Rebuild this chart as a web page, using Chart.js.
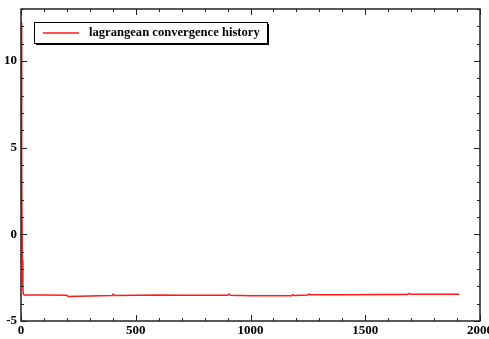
<!DOCTYPE html>
<html>
<head>
<meta charset="utf-8">
<script src="https://cdn.jsdelivr.net/npm/chart.js@4/dist/chart.umd.min.js"></script>
<style>
  html, body { margin: 0; padding: 0; background: #fff; }
  #wrap { width: 489px; height: 339px; }
</style>
</head>
<body>
<div id="wrap"><canvas id="chart"></canvas></div>
<script>
// iteration / lagrangean value pairs
const iterations = [0, 2, 4, 6, 8, 10, 14, 20, 100, 199, 205, 300, 398, 402, 408, 500, 600, 700, 800, 900, 906, 912, 1000, 1100, 1180, 1184, 1190, 1250, 1254, 1260, 1400, 1600, 1685, 1688, 1700, 1910];
const lagrangean = [12.2, 8.5, 3.0, -1.5, -3.0, -3.45, -3.5, -3.5, -3.5, -3.52, -3.58, -3.56, -3.53, -3.45, -3.53, -3.52, -3.5, -3.52, -3.52, -3.52, -3.44, -3.52, -3.55, -3.54, -3.55, -3.47, -3.53, -3.5, -3.44, -3.49, -3.48, -3.47, -3.47, -3.42, -3.46, -3.46];
const xTicks = [0, 500, 1000, 1500, 2000];
const yTicks = [-5, 0, 5, 10];
const seriesLabel = 'lagrangean convergence history';

const serif = '"Liberation Serif", "DejaVu Serif", serif';

// frame + inside tick marks on all four sides
const framePlugin = {
  id: 'frame',
  afterDraw(chart) {
    const { ctx, chartArea: a, scales: { x, y } } = chart;
    ctx.save();
    ctx.strokeStyle = '#222';
    ctx.lineWidth = 1.5;
    ctx.strokeRect(a.left, a.top, a.right - a.left, a.bottom - a.top);
    ctx.lineWidth = 1;
    ctx.beginPath();
    for (let v = 0; v <= 2000; v += 100) {
      const px = Math.round(x.getPixelForValue(v)) + 0.5;
      const len = v % 500 === 0 ? 6 : 3;
      ctx.moveTo(px, a.bottom); ctx.lineTo(px, a.bottom - len);
      ctx.moveTo(px, a.top); ctx.lineTo(px, a.top + len);
    }
    for (let v = -5; v <= 13; v += 1) {
      const py = Math.round(y.getPixelForValue(v)) + 0.5;
      const len = v % 5 === 0 ? 6 : 3;
      ctx.moveTo(a.left, py); ctx.lineTo(a.left + len, py);
      ctx.moveTo(a.right, py); ctx.lineTo(a.right - len, py);
    }
    ctx.stroke();

    // legend box with drop shadow
    const bx = 34, by = 22, bw = 233, bh = 21;
    ctx.fillStyle = '#000';
    ctx.fillRect(bx + 2, by + 2, bw, bh);
    ctx.fillStyle = '#fff';
    ctx.fillRect(bx, by, bw, bh);
    ctx.strokeStyle = '#000';
    ctx.lineWidth = 1;
    ctx.strokeRect(bx + 0.5, by + 0.5, bw, bh);
    const ds = chart.data.datasets[0];
    ctx.strokeStyle = ds.borderColor;
    ctx.lineWidth = 1.5;
    ctx.beginPath();
    ctx.moveTo(43, 33); ctx.lineTo(79, 33);
    ctx.stroke();
    ctx.fillStyle = '#000';
    ctx.font = 'bold 12.6px ' + serif;
    ctx.textBaseline = 'middle';
    ctx.fillText(ds.label, 89, 33);
    ctx.restore();
  }
};

new Chart(document.getElementById('chart'), {
  type: 'line',
  data: {
    datasets: [{
      label: seriesLabel,
      data: iterations.map((it, i) => ({ x: it, y: lagrangean[i] })),
      borderColor: 'rgba(255, 0, 0, 0.9)',
      borderWidth: 1.5,
      pointRadius: 0,
      tension: 0,
      fill: false
    }]
  },
  options: {
    responsive: true,
    maintainAspectRatio: false,
    animation: false,
    layout: { padding: { left: 0, right: 9, top: 9, bottom: 0 } },
    plugins: { legend: { display: false }, tooltip: { enabled: false } },
    scales: {
      x: {
        type: 'linear',
        min: 0, max: 2000,
        afterBuildTicks: s => { s.ticks = xTicks.map(v => ({ value: v })); },
        afterFit: s => { s.height = 18; s.paddingLeft = 0; s.paddingRight = 0; },
        grid: { display: false, drawTicks: false },
        border: { display: false },
        ticks: {
          color: '#000', padding: 2, maxRotation: 0,
          font: { family: serif, weight: 'bold', size: 13 },
          callback: v => String(v)
        }
      },
      y: {
        type: 'linear',
        min: -5, max: 13,
        afterBuildTicks: s => { s.ticks = yTicks.map(v => ({ value: v })); },
        afterFit: s => { s.width = 21; s.paddingTop = 0; s.paddingBottom = 0; },
        grid: { display: false, drawTicks: false },
        border: { display: false },
        ticks: {
          color: '#000', padding: 4,
          font: { family: serif, weight: 'bold', size: 13 },
          callback: v => String(v)
        }
      }
    }
  },
  plugins: [framePlugin]
});
</script>
</body>
</html>
